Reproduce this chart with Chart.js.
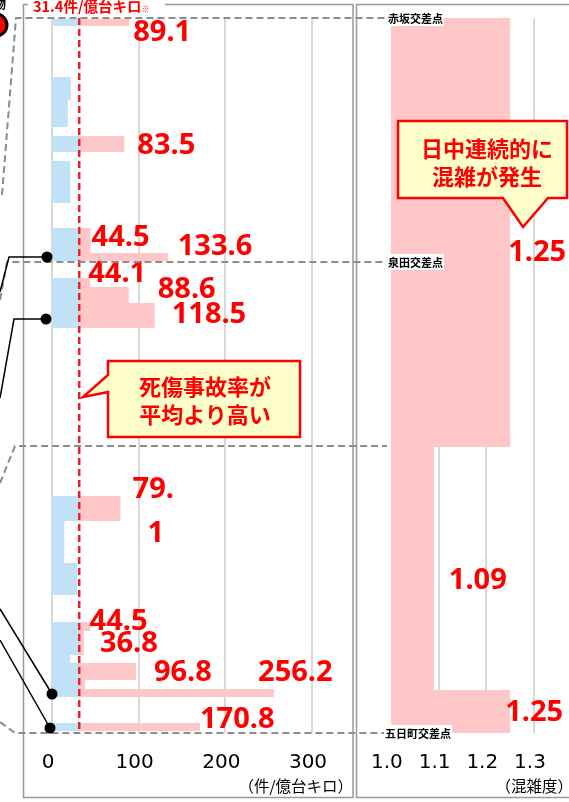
<!DOCTYPE html>
<html lang="ja">
<head>
<meta charset="utf-8">
<title>死傷事故率と混雑度</title>
<script src="https://cdn.jsdelivr.net/npm/chart.js@4.4.1/dist/chart.umd.min.js"></script>
<style>
  html, body { margin: 0; padding: 0; background: #fff; }
  #wrap { position: relative; width: 569px; height: 802px; overflow: hidden; }
  canvas { position: absolute; top: 0; }
  #rateChart { left: 23px; }
  #congChart { left: 357px; }
  #overlay { position: absolute; left: 0; top: 0; font-family: "Noto Sans CJK JP", sans-serif; }
</style>
</head>
<body>
<div id="wrap">
  <canvas id="rateChart" width="330" height="802"></canvas>
  <canvas id="congChart" width="212" height="802"></canvas>
  <svg id="overlay" width="569" height="802" xmlns="http://www.w3.org/2000/svg"></svg>
</div>
<script>
// 道路上の位置（赤坂交差点 = 0 ～ 五日町交差点 = roadLength）
const roadLength = 715;

// 死傷事故率（件/億台キロ）: 区間の始点・終点と値
const rateFrom = [1, 59, 82, 118, 143, 210, 235, 260, 269, 285, 478, 503, 545, 604, 613, 637, 645, 662, 671, 705];
const rateTo   = [8, 82, 109, 134, 185, 235, 243, 269, 285, 310, 503, 545, 577, 613, 637, 645, 662, 671, 679, 713];
const rateVals = [89.1, 21.5, 18, 83.5, 21, 44.5, 133.6, 44.1, 88.6, 118.5, 79.1, 14, 29, 44.5, 36.8, 21, 96.8, 38, 256.2, 170.8];
const avgRate = 31.4;
const rateTicks = [0, 100, 200, 300];

// 混雑度
const congFrom = [0, 429, 672];
const congTo   = [429, 672, 715];
const congVals = [1.25, 1.09, 1.25];
const congTicks = [1.0, 1.1, 1.2, 1.3];

// 交差点
const nodeNames = ['赤坂交差点', '泉田交差点', '五日町交差点'];
const nodePos = [0, 244, 715];

const PINK = '#FFC7C7';
const BLUE = '#C0E1F6';
const RED = '#FF0000';

// ラベルの置き場所（バー端・区間中央からのずれ, px）
const rateLabelLayout = [
  { i: 0, dx: 4, dy: 9.5 },
  { i: 3, dx: 13, dy: 1 },
  { i: 5, dx: 1, dy: -3.5 },
  { i: 6, dx: 10, dy: -11 },
  { i: 7, dx: -2, dy: -10 },
  { i: 8, dx: 29, dy: -6 },
  { i: 9, dx: 17, dy: -2 },
  { i: 10, dx: 12, dy: -19.5, split: 3, dx2: 27, dy2: 24.5 },
  { i: 13, dx: -1, dy: -5.5 },
  { i: 14, dx: 16, dy: 0 },
  { i: 16, dx: 18, dy: 0 },
  { i: 18, dx: -16, dy: -21 },
  { i: 19, dx: 0, dy: -8 }
];
const congLabelLayout = [
  { i: 0, dx: -2, dy: 19.5 },
  { i: 1, dx: 15, dy: 11.5 },
  { i: 2, dx: -5, dy: 0 }
];

// 区間ごとの矩形をつないだ輪郭
function profile(from, to, vals, base) {
  const pts = [];
  from.forEach((s, i) => {
    pts.push({ x: base, y: s }, { x: vals[i], y: s }, { x: vals[i], y: to[i] }, { x: base, y: to[i] });
  });
  return pts;
}

function makeLabels(from, to, vals, layout, digits) {
  return {
    id: 'valueLabels',
    afterDatasetsDraw(chart) {
      const { ctx, scales: { x, y } } = chart;
      ctx.save();
      ctx.fillStyle = RED;
      ctx.font = 'bold 29px "Noto Sans"';
      ctx.textBaseline = 'middle';
      ctx.textAlign = 'left';
      layout.forEach(l => {
        const v = vals[l.i];
        const text = v.toFixed(digits);
        const px = x.getPixelForValue(v);
        const py = y.getPixelForValue((from[l.i] + to[l.i]) / 2) + 1;
        if (l.split) {
          ctx.fillText(text.slice(0, l.split), px + l.dx, py + l.dy);
          ctx.fillText(text.slice(l.split), px + l.dx2, py + l.dy2);
        } else {
          ctx.fillText(text, px + l.dx, py + l.dy);
        }
      });
      ctx.restore();
    }
  };
}

function xAxis(min, max, ticks, fmt, hideFirst) {
  return {
    type: 'linear', position: 'bottom', min, max,
    afterBuildTicks: s => { s.ticks = ticks.map(v => ({ value: v })); },
    afterFit: s => { s.height = 69; },
    grid: {
      color: c => (hideFirst && c.tick && c.tick.value === min) ? 'rgba(0,0,0,0)' : '#D9D9D9',
      lineWidth: 2, drawTicks: false
    },
    border: { display: false },
    ticks: { color: '#000', padding: 18, labelOffset: -4, font: { family: 'DejaVu Sans', size: 20 }, callback: fmt }
  };
}

const common = {
  indexAxis: 'y',
  responsive: false,
  animation: false,
  events: [],
  plugins: { legend: { display: false }, tooltip: { enabled: false } }
};

const rateChart = new Chart(document.getElementById('rateChart'), {
  type: 'line',
  data: {
    datasets: [
      { label: '平均', data: [{ x: avgRate, y: 0 }, { x: avgRate, y: roadLength }],
        borderColor: '#E8202E', borderWidth: 2.5, borderDash: [7, 4], pointRadius: 0, fill: false },
      { label: '平均以下', data: profile(rateFrom, rateTo, rateVals.map(v => Math.min(v, avgRate)), 0),
        backgroundColor: BLUE, borderColor: 'rgba(0,0,0,0)', borderWidth: 0, pointRadius: 0, fill: 'origin' },
      { label: '死傷事故率', data: profile(rateFrom, rateTo, rateVals, 0),
        backgroundColor: PINK, borderColor: 'rgba(0,0,0,0)', borderWidth: 0, pointRadius: 0, fill: 'origin' }
    ]
  },
  options: {
    ...common,
    layout: { padding: { left: 29, right: 41, top: 18, bottom: 0 } },
    scales: {
      x: xAxis(0, 300, rateTicks, v => String(v), false),
      y: { type: 'linear', min: 0, max: roadLength, reverse: true, display: false }
    }
  },
  plugins: [makeLabels(rateFrom, rateTo, rateVals, rateLabelLayout, 1)]
});

const congChart = new Chart(document.getElementById('congChart'), {
  type: 'line',
  data: {
    datasets: [
      { label: '混雑度', data: profile(congFrom, congTo, congVals, congTicks[0]),
        backgroundColor: PINK, borderColor: 'rgba(0,0,0,0)', borderWidth: 0, pointRadius: 0, fill: 'origin' }
    ]
  },
  options: {
    ...common,
    layout: { padding: { left: 33, right: 35, top: 18, bottom: 0 } },
    scales: {
      x: xAxis(1.0, 1.3, congTicks, v => v.toFixed(1), true),
      y: { type: 'linear', min: 0, max: roadLength, reverse: true, display: false }
    }
  },
  plugins: [makeLabels(congFrom, congTo, congVals, congLabelLayout, 2)]
});

// ---- 注記（枠・引出線・吹き出し）----
const NS = 'http://www.w3.org/2000/svg';
const svg = document.getElementById('overlay');
function add(tag, attrs, text, parent) {
  const el = document.createElementNS(NS, tag);
  for (const k in attrs) el.setAttribute(k, attrs[k]);
  if (text != null) el.textContent = text;
  (parent || svg).appendChild(el);
  return el;
}
const yPix = pos => rateChart.scales.y.getPixelForValue(pos);

// パネル枠
add('rect', { x: 23.5, y: 4.5, width: 329.5, height: 793, fill: 'none', stroke: '#999', 'stroke-width': 1.5 });
add('rect', { x: 356.5, y: 4.5, width: 214, height: 793, fill: 'none', stroke: '#999', 'stroke-width': 1.5 });

// 左端で切れた図の名残
add('text', { x: -6, y: 9, 'font-size': 12, 'font-weight': 'bold', fill: '#000' }, '物');
add('circle', { cx: -4, cy: 25, r: 11, fill: RED, stroke: '#000', 'stroke-width': 3 });

// 交差点の破線
const dash = { fill: 'none', stroke: '#8C8C8C', 'stroke-width': 2, 'stroke-dasharray': '7 4' };
const leaderStarts = [[2, 195, 16], [0, 300, 7], [0, 722, 15]];
nodePos.forEach((p, i) => {
  const y = yPix(p);
  const [x0, y0, x1] = leaderStarts[i];
  add('path', { d: `M${x0},${y0} L${x1},${y} H385`, ...dash });
});
{
  const y = yPix(congFrom[1]) - 1;
  add('path', { d: `M0,483 L15,${y} H387`, ...dash });
}

// 黒丸の引出線
const dots = [[47, 257, 'M47,257 H9 L0,292'], [46, 319, 'M46,319 H14 L0,398'],
              [52, 694, 'M52,694 L0,609'], [50, 728, 'M50,728 L0,640']];
dots.forEach(([cx, cy, d]) => {
  add('path', { d, fill: 'none', stroke: '#000', 'stroke-width': 1.5 });
  add('circle', { cx, cy, r: 5.5, fill: '#000' });
});

// 交差点名
nodeNames.forEach((name, i) => {
  const y = yPix(nodePos[i]);
  const x = i === 2 ? 385 : 388;
  const t = add('text', { x, y, 'font-size': 11, 'font-weight': 'bold', fill: '#000', 'dominant-baseline': 'central' }, name);
  const b = t.getBBox();
  const bg = document.createElementNS(NS, 'rect');
  bg.setAttribute('x', b.x - 1); bg.setAttribute('y', b.y);
  bg.setAttribute('width', b.width + 2); bg.setAttribute('height', b.height);
  bg.setAttribute('fill', '#fff');
  svg.insertBefore(bg, t);
});

// 平均値ラベル
add('rect', { x: 28, y: 0, width: 137, height: 13, fill: '#fff' });
const avgText = add('text', { x: 33, y: 12, 'font-size': 14.5, 'font-weight': 'bold', fill: RED }, avgRate.toFixed(1) + '件/億台キロ');
add('tspan', { 'font-size': 8 }, '※', avgText);

// 吹き出し
const bubble = { fill: '#FFFFCC', stroke: RED, 'stroke-width': 2.5, 'stroke-linejoin': 'miter' };
add('path', { d: 'M108,361 H300 V437 H108 V392 L83,397 L108,375 Z', ...bubble });
add('path', { d: 'M398,121 H567 V198 H548 L523,227 L503,198 H398 Z', ...bubble });
const bubbleText = { 'font-size': 22, 'font-weight': 'bold', fill: RED, 'text-anchor': 'middle', 'dominant-baseline': 'central' };
add('text', { x: 205, y: 385, ...bubbleText }, '死傷事故率が');
add('text', { x: 205, y: 413, ...bubbleText }, '平均より高い');
add('text', { x: 487, y: 147, ...bubbleText }, '日中連続的に');
add('text', { x: 487, y: 175, ...bubbleText }, '混雑が発生');

// 単位
add('text', { x: 353, y: 785, 'font-size': 15.5, fill: '#000', 'text-anchor': 'end', 'dominant-baseline': 'central' }, '（件/億台キロ）');
add('text', { x: 573, y: 785, 'font-size': 15.5, fill: '#000', 'text-anchor': 'end', 'dominant-baseline': 'central' }, '（混雑度）');
</script>
</body>
</html>
